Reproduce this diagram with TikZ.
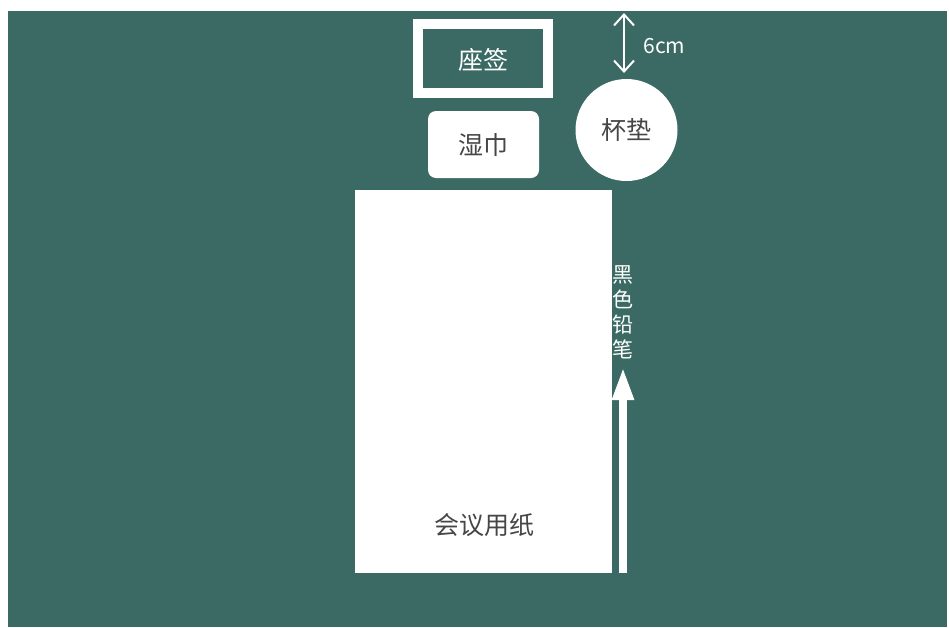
\documentclass[tikz,border=0pt]{standalone}
\usepackage{fontspec}
\setmainfont{Noto Sans CJK SC}
\usetikzlibrary{arrows.meta}
\definecolor{bg}{RGB}{58,106,99}
\definecolor{ink}{RGB}{70,70,70}
\tikzset{
  whitebox/.style={fill=white,draw=none},
  darklabel/.style={text=ink,font=\fontsize{25}{28}\selectfont},
  lightlabel/.style={text=white,font=\fontsize{25}{28}\selectfont},
}
\begin{document}
\begin{tikzpicture}[x=1pt,y=-1pt]
\useasboundingbox (0,0) rectangle (949,627);
\fill[white] (0,0) rectangle (949,627);
\fill[bg] (8,11) rectangle (947,627);
% paper
\node[whitebox,minimum width=257pt,minimum height=383pt,inner sep=0pt] (paper) at (483.5,381.5) {};
\node[darklabel] (paperlabel) at (484,525) {会议用纸};
% name card
\node[draw=white,line width=10pt,minimum width=130pt,minimum height=69pt,inner sep=0pt] (card) at (483,58.5) {};
\node[lightlabel] (cardlabel) at (483,60) {座签};
% wet towel
\node[whitebox,rounded corners=8pt,minimum width=111pt,minimum height=67pt,inner sep=0pt] (towel) at (483.5,144.5) {};
\node[darklabel] (towellabel) at (483,145) {湿巾};
% coaster
\node[whitebox,circle,minimum size=102pt,inner sep=0pt] (coaster) at (626.5,130) {};
\node[darklabel] (coasterlabel) at (626,130) {杯垫};
% 6cm arrow
\coordinate (dtop) at (624,13);
\coordinate (dbot) at (624,73);
\draw[white,line width=2pt,{Straight Barb[width=20pt,length=11pt]}-{Straight Barb[width=20pt,length=11pt]}] (dtop) -- (dbot);
\node[text=white,font=\fontsize{21}{24}\selectfont,anchor=west] (cm) at (640,46) {6cm};
% pencil
\coordinate (pbot) at (623,573);
\coordinate (ptop) at (623,367);
\draw[white,line width=8pt,-{Triangle[width=20pt,length=33pt]}] (pbot) -- (ptop);
\node[text=white,font=\fontsize{21}{25}\selectfont,align=center,anchor=north] (pencil) at (623,262) {黑\\色\\铅\\笔};
\end{tikzpicture}
\end{document}
